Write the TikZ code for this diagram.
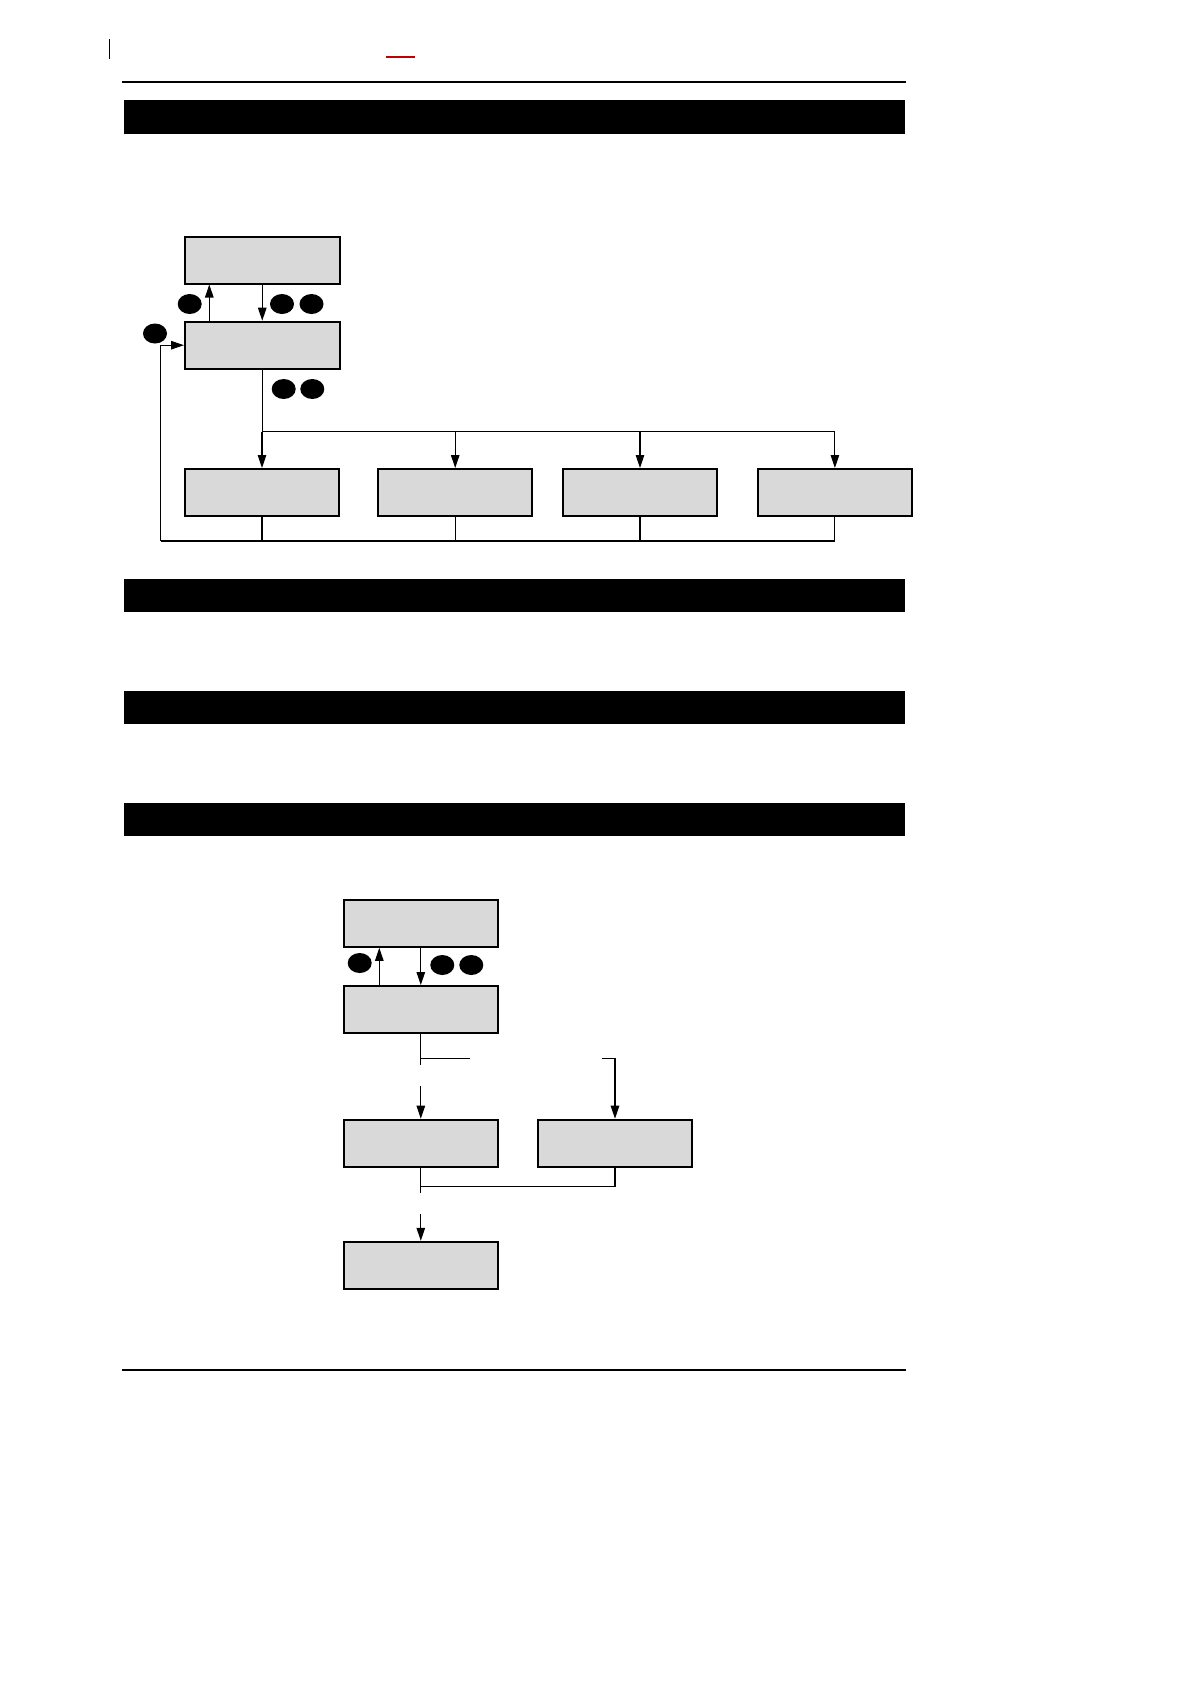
\documentclass[tikz,border=0pt]{standalone}
\usetikzlibrary{arrows.meta,shapes.geometric}
\definecolor{boxgray}{RGB}{217,217,217}
\definecolor{darkred}{RGB}{192,0,0}
\begin{document}
\begin{tikzpicture}[x=1pt,y=-1pt,
  box/.style={draw, line width=2pt, fill=boxgray, minimum width=154.5pt, minimum height=47pt, inner sep=0pt},
  btn/.style={ellipse, fill=black, minimum width=24pt, minimum height=20pt, inner sep=0pt},
  conn/.style={line width=1.1pt},
  arr/.style={conn, -{Triangle[width=8.5pt,length=13pt]}},
  bar/.style={fill=black}]
\fill[white] (0,0) rectangle (1190,1684);
\useasboundingbox (0,0) rectangle (1190,1684);
% header marks
\draw[line width=1pt] (109.3,39.3) -- (109.3,59);
\draw[darkred, line width=1.2pt] (386,57) -- (415,57);
\draw[line width=2pt] (122,81.7) -- (906,81.7);
\draw[line width=2.8pt] (122,1370) -- (906,1370);
% black section bars
\fill[bar] (124,100) rectangle (905,134);
\fill[bar] (124,579) rectangle (905,612);
\fill[bar] (124,691) rectangle (905,724);
\fill[bar] (124,803.3) rectangle (905,836);
% ---- upper diagram
\node[box] (A) at (262.25,260) {};
\node[box] (B) at (262.25,345.2) {};
\node[box] (C1) at (262,492.5) {};
\node[box] (C2) at (455.2,492.5) {};
\node[box] (C3) at (640,492.5) {};
\node[box] (C4) at (834.9,492.5) {};
\node[btn] (e1) at (189.7,304) {};
\node[btn] (e2) at (282,304) {};
\node[btn] (e3) at (311.5,304) {};
\node[btn] (e4) at (155,333.5) {};
\node[btn] (e5) at (283.7,389) {};
\node[btn] (e6) at (312.3,389) {};
\coordinate (xu) at (209.3,0);
\draw[arr] (B.north -| xu) -- (A.south -| xu);
\draw[arr] (A.south) -- (B.north);
\coordinate (bus) at (262,431.7);
\draw[conn] (B.south) -- (B.south |- bus) -- (C4.north |- bus);
\foreach \c in {C1,C2,C3,C4} {\draw[arr] (\c.north |- bus) -- (\c.north);}
\coordinate (ret) at (160.7,541);
\foreach \c in {C1,C2,C3} {\draw[conn] (\c.south) -- (\c.south |- ret);}
\draw[conn] (C4.south) -- (C4.south |- ret) -- (ret);
\draw[arr] (ret) -- (ret |- B.west) -- (B.west);
% ---- lower diagram
\node[box] (D) at (420.8,923.3) {};
\node[box] (E) at (420.8,1009.5) {};
\node[box] (F1) at (420.8,1143.2) {};
\node[box] (F2) at (615,1143.2) {};
\node[box] (G) at (420.8,1265.3) {};
\node[btn] (e7) at (359.7,963) {};
\node[btn] (e8) at (442.3,965) {};
\node[btn] (e9) at (471.3,965) {};
\coordinate (xu2) at (379.3,0);
\draw[arr] (E.north -| xu2) -- (D.south -| xu2);
\draw[arr] (D.south) -- (E.north);
\coordinate (j1) at (420.8,1058.3);
\coordinate (j1b) at (420.8,1065.3);
\coordinate (h1end) at (470,1058.3);
\coordinate (h2start) at (602.3,1058.3);
\draw[conn] (E.south) -- (j1b);
\draw[conn] (j1) -- (h1end);
\draw[arr] (h2start) -- (h2start -| F2.north) -- (F2.north);
\coordinate (a1) at (420.8,1086);
\draw[arr] (a1) -- (F1.north);
\coordinate (j2) at (420.8,1186.3);
\coordinate (j2b) at (420.8,1193.3);
\draw[conn] (F1.south) -- (j2b);
\draw[conn] (j2) -- (j2 -| F2.south) -- (F2.south);
\coordinate (a2) at (420.8,1214);
\draw[arr] (a2) -- (G.north);
\end{tikzpicture}
\end{document}
